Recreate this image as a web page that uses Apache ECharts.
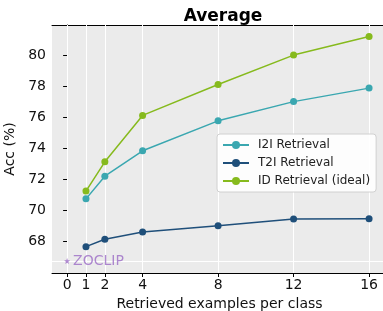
<!DOCTYPE html>
<html>
<head>
<meta charset="utf-8">
<script src="https://cdn.jsdelivr.net/npm/echarts@6/dist/echarts.min.js"></script>
<style>
  html, body { margin: 0; padding: 0; background: #fff; overflow: hidden; }
  #chart { width: 390px; height: 311px; }
</style>
</head>
<body>
<div id="chart"></div>
<script>
const shots = [1, 2, 4, 8, 12, 16]
const xTicks = [0, 1, 2, 4, 8, 12, 16]
const yTicks = [68, 70, 72, 74, 76, 78, 80]
const i2i = [70.73, 72.19, 73.83, 75.76, 77.0, 77.87]
const t2i = [67.65, 68.13, 68.6, 69.0, 69.43, 69.45]
const idIdeal = [71.23, 73.12, 76.11, 78.1, 80.0, 81.2]
const zoclip = 66.72

const font = 'DejaVu Sans'
const pairs = (xs, ys) => xs.map((x, i) => [x, ys[i]])

const chart = echarts.init(document.getElementById('chart'))

const lineSeries = (name, data, color) => ({
  name,
  type: 'line',
  data: pairs(shots, data),
  symbol: 'circle',
  symbolSize: 7,
  lineStyle: { color, width: 1.5 },
  itemStyle: { color },
  z: 5
})

const xMin = -0.8
const xMax = 16.95

const option = {
  animation: false,
  title: {
    text: 'Average',
    left: 218,
    textAlign: 'center',
    top: 3,
    textStyle: { fontFamily: font, fontWeight: 'bold', fontSize: 17, color: '#000' }
  },
  grid: {
    left: 52, top: 25, bottom: 38, right: 3,
    outerBoundsMode: 'none',
    containLabel: false,
    show: true,
    backgroundColor: '#ebebeb',
    borderWidth: 0
  },
  legend: {
    orient: 'vertical',
    left: 217, top: 134,
    z: 20,
    padding: [5, 6, 5, 5],
    itemGap: 6,
    itemWidth: 26,
    itemHeight: 10,
    backgroundColor: 'rgba(255,255,255,0.9)',
    borderColor: '#d0d0d0',
    borderWidth: 1,
    borderRadius: 3,
    textStyle: { fontFamily: font, fontSize: 12, color: '#222', padding: [0, 0, 0, 4] },
    data: ['I2I Retrieval', 'T2I Retrieval', 'ID Retrieval (ideal)']
  },
  xAxis: [
    {
      type: 'value',
      min: xMin, max: xMax,
      name: 'Retrieved examples per class',
      nameLocation: 'middle',
      nameGap: 23,
      nameTextStyle: { fontFamily: font, fontSize: 14, color: '#111' },
      axisLine: { lineStyle: { color: '#000', width: 1 } },
      axisTick: { customValues: xTicks, length: 4, lineStyle: { color: '#000' } },
      axisLabel: { customValues: xTicks, fontFamily: font, fontSize: 14, color: '#111', margin: 5 },
      splitLine: { show: false }
    },
    {
      type: 'value',
      position: 'top',
      min: xMin, max: xMax,
      axisLine: { show: true, lineStyle: { color: '#000', width: 1 } },
      axisTick: { show: false },
      axisLabel: { show: false },
      splitLine: { show: false }
    }
  ],
  yAxis: {
    type: 'value',
    min: 65.95, max: 81.94,
    name: 'Acc (%)',
    nameLocation: 'middle',
    nameGap: 30,
    nameTextStyle: { fontFamily: font, fontSize: 14, color: '#111' },
    axisLine: { show: true, lineStyle: { color: '#000', width: 1 } },
    axisTick: { show: true, customValues: yTicks, length: 4, lineStyle: { color: '#000' } },
    axisLabel: { customValues: yTicks, fontFamily: font, fontSize: 14, color: '#111', margin: 6 },
    splitLine: { show: false }
  },
  series: [
    {
      name: 'grid',
      type: 'line',
      data: [],
      silent: true,
      z: 1,
      markLine: {
        silent: true,
        z: 1,
        symbol: 'none',
        label: { show: false },
        lineStyle: { color: '#fff', width: 1, type: 'solid' },
        data: xTicks.map(v => ({ xAxis: v })).concat([{ yAxis: zoclip }])
      }
    },
    lineSeries('I2I Retrieval', i2i, '#3aa7b0'),
    lineSeries('T2I Retrieval', t2i, '#1f4f7a'),
    lineSeries('ID Retrieval (ideal)', idIdeal, '#86ba1d'),
    {
      name: 'ZOCLIP',
      type: 'scatter',
      data: [[0, zoclip]],
      symbol: 'path://M0,-10 L2.35,-3.24 L9.51,-3.09 L3.8,1.24 L5.88,8.09 L0,4 L-5.88,8.09 L-3.8,1.24 L-9.51,-3.09 L-2.35,-3.24 Z',
      symbolSize: 6,
      itemStyle: { color: '#9b6cc6' },
      label: {
        show: true,
        position: 'right',
        distance: 3,
        formatter: 'ZOCLIP',
        fontFamily: font,
        fontSize: 14,
        color: '#9b6cc6'
      },
      z: 6
    }
  ]
}

chart.setOption(option)
</script>
</body>
</html>
